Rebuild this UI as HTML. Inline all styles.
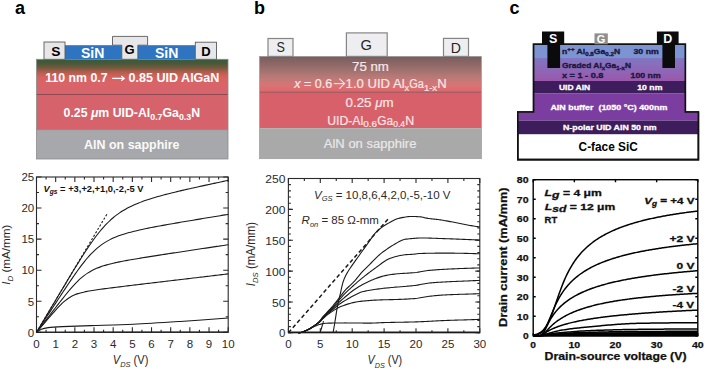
<!DOCTYPE html>
<html><head><meta charset="utf-8"><style>
html,body{margin:0;padding:0;background:#fff;}
body{width:706px;height:370px;overflow:hidden;}
svg{display:block;font-family:"Liberation Sans", sans-serif;}
</style></head><body>
<svg width="706" height="370" viewBox="0 0 706 370">
<rect width="706" height="370" fill="#fff"/>
<text x="15.00" y="13.60" font-size="18.00" fill="#000" font-weight="bold" font-style="normal" text-anchor="start" >a</text>
<text x="254.00" y="13.60" font-size="18.00" fill="#000" font-weight="bold" font-style="normal" text-anchor="start" >b</text>
<text x="509.40" y="13.60" font-size="18.00" fill="#000" font-weight="bold" font-style="normal" text-anchor="start" >c</text>
<defs>
<linearGradient id="ga" x1="0" y1="0" x2="0" y2="1">
<stop offset="0" stop-color="#3b5a36"/><stop offset="0.1" stop-color="#45593a"/>
<stop offset="0.2" stop-color="#64593c"/><stop offset="0.3" stop-color="#925b45"/>
<stop offset="0.4" stop-color="#c05e52"/><stop offset="0.5" stop-color="#d6615c"/>
<stop offset="0.65" stop-color="#d96468"/><stop offset="1" stop-color="#d6646c"/>
</linearGradient>
<linearGradient id="gb" x1="0" y1="0" x2="0" y2="1">
<stop offset="0" stop-color="#7a5c5c"/><stop offset="0.35" stop-color="#9a706e"/>
<stop offset="0.6" stop-color="#bc7a78"/><stop offset="0.8" stop-color="#d87474"/>
<stop offset="0.92" stop-color="#dc6c6e"/><stop offset="1" stop-color="#d9666c"/>
</linearGradient>
<linearGradient id="gc" x1="0" y1="0" x2="0" y2="1">
<stop offset="0" stop-color="#8177c2"/><stop offset="1" stop-color="#9a58ac"/>
</linearGradient>
</defs>
<rect x="36.5" y="59.3" width="191.5" height="35.2" fill="url(#ga)"/>
<rect x="36.5" y="94.5" width="191.5" height="35" fill="#d6636b"/>
<rect x="36.5" y="129.5" width="191.5" height="29.5" fill="#a7a8ab"/>
<line x1="36.5" y1="94.5" x2="228" y2="94.5" stroke="#8e4a50" stroke-width="1"/>
<line x1="36.5" y1="129.6" x2="228" y2="129.6" stroke="#9a7074" stroke-width="0.8"/>
<rect x="36.5" y="59.3" width="191.5" height="99.7" fill="none" stroke="#8a8a8a" stroke-width="0.8"/>
<rect x="64.9" y="45.2" width="57" height="14.1" fill="#2e74c1"/>
<rect x="137.8" y="45.2" width="57.5" height="14.1" fill="#2e74c1"/>
<rect x="44" y="42" width="21" height="17.3" fill="#e7e7e9" stroke="#5a5a5a" stroke-width="0.9"/>
<rect x="195.3" y="42.2" width="21.2" height="17.1" fill="#e7e7e9" stroke="#5a5a5a" stroke-width="0.9"/>
<path d="M112.5,45.2 L112.5,36.4 L147.6,36.4 L147.6,45.2 L137.8,45.2 L137.8,59.3 L121.8,59.3 L121.8,45.2 Z" fill="#e7e7e9" stroke="#5a5a5a" stroke-width="0.9"/>
<text x="55.80" y="55.60" font-size="13.50" fill="#000" font-weight="bold" font-style="normal" text-anchor="middle" textLength="9.2" lengthAdjust="spacingAndGlyphs" >S</text>
<text x="129.60" y="54.30" font-size="13.00" fill="#000" font-weight="bold" font-style="normal" text-anchor="middle" >G</text>
<text x="206.00" y="55.80" font-size="13.00" fill="#000" font-weight="bold" font-style="normal" text-anchor="middle" >D</text>
<text x="92.60" y="58.00" font-size="14.00" fill="#fff" font-weight="bold" font-style="normal" text-anchor="middle" >SiN</text>
<text x="166.60" y="58.00" font-size="14.00" fill="#fff" font-weight="bold" font-style="normal" text-anchor="middle" >SiN</text>
<text x="45.30" y="81.60" font-size="12.20" fill="#fff" font-weight="bold" font-style="normal" text-anchor="start" textLength="62.2" lengthAdjust="spacingAndGlyphs" >110 nm 0.7</text>
<path d="M112.2,78.4 H123.6" stroke="#fff" stroke-width="1.3"/><path d="M121.2,76.1 L124.2,78.4 L121.2,80.7" stroke="#fff" stroke-width="1.2" fill="none"/>
<text x="128.60" y="81.60" font-size="12.20" fill="#fff" font-weight="bold" font-style="normal" text-anchor="start" textLength="90.8" lengthAdjust="spacingAndGlyphs" >0.85 UID AlGaN</text>
<text x="63.6" y="117" font-size="12.5" fill="#fff" font-weight="bold" textLength="136.5" lengthAdjust="spacingAndGlyphs">0.25 <tspan font-style="italic">&#956;</tspan>m UID-Al<tspan font-size="9" dy="3">0.7</tspan><tspan dy="-3">Ga</tspan><tspan font-size="9" dy="3">0.3</tspan><tspan dy="-3">N</tspan></text>
<text x="131.80" y="149.20" font-size="12.20" fill="#fafafa" font-weight="bold" font-style="normal" text-anchor="middle" textLength="95.5" lengthAdjust="spacingAndGlyphs" >AlN on sapphire</text>
<rect x="259.5" y="56.4" width="221.9" height="35.9" fill="url(#gb)"/>
<rect x="259.5" y="92.3" width="221.9" height="35.9" fill="#d8606a"/>
<rect x="259.5" y="128.2" width="221.9" height="30.5" fill="#a9a9a9"/>
<line x1="259.5" y1="92.3" x2="481.4" y2="92.3" stroke="#8c4a4e" stroke-width="0.8"/>
<rect x="259.5" y="56.4" width="221.9" height="102.3" fill="none" stroke="#9a9a9a" stroke-width="0.7"/>
<rect x="268" y="38.5" width="25" height="17.9" fill="#eeeef0" stroke="#858585" stroke-width="1.2"/>
<rect x="346.4" y="32.9" width="40.8" height="23.5" fill="#eeeef0" stroke="#858585" stroke-width="1.2"/>
<rect x="443.5" y="38.4" width="25" height="18" fill="#eeeef0" stroke="#858585" stroke-width="1.2"/>
<text x="280.80" y="52.40" font-size="15.00" fill="#262626" font-weight="normal" font-style="normal" text-anchor="middle" textLength="8.4" lengthAdjust="spacingAndGlyphs" >S</text>
<text x="366.30" y="50.20" font-size="15.50" fill="#262626" font-weight="normal" font-style="normal" text-anchor="middle" textLength="11.4" lengthAdjust="spacingAndGlyphs" >G</text>
<text x="455.90" y="53.40" font-size="15.00" fill="#262626" font-weight="normal" font-style="normal" text-anchor="middle" textLength="10.2" lengthAdjust="spacingAndGlyphs" >D</text>
<text x="370.50" y="70.60" font-size="12.00" fill="#f8e6e6" font-weight="normal" font-style="normal" text-anchor="middle" textLength="36.8" lengthAdjust="spacingAndGlyphs" stroke="#f8e6e6" stroke-width="0.2">75 nm</text>
<text x="294.3" y="87.7" font-size="12" fill="#f8e6e6" stroke="#f8e6e6" stroke-width="0.2" textLength="38" lengthAdjust="spacingAndGlyphs"><tspan font-style="italic">x</tspan> = 0.6</text>
<path d="M333.8,83.6 H344.2" stroke="#f8e6e6" stroke-width="1.1"/><path d="M339.4,78.7 L344.6,83.6 L339.4,88.7" stroke="#f8e6e6" stroke-width="1.1" fill="none"/>
<text x="345.60" y="87.70" font-size="12.00" fill="#f8e6e6" font-weight="normal" font-style="normal" text-anchor="start" textLength="59.0" lengthAdjust="spacingAndGlyphs" stroke="#f8e6e6" stroke-width="0.2">1.0 UID Al</text>
<text x="404.60" y="91.20" font-size="8.50" fill="#f8e6e6" font-weight="normal" font-style="normal" text-anchor="start" textLength="4.6" lengthAdjust="spacingAndGlyphs" stroke="#f8e6e6" stroke-width="0.2">x</text>
<text x="409.20" y="87.70" font-size="12.00" fill="#f8e6e6" font-weight="normal" font-style="normal" text-anchor="start" textLength="14.6" lengthAdjust="spacingAndGlyphs" stroke="#f8e6e6" stroke-width="0.2">Ga</text>
<text x="423.90" y="91.20" font-size="8.50" fill="#f8e6e6" font-weight="normal" font-style="normal" text-anchor="start" textLength="13.2" lengthAdjust="spacingAndGlyphs" stroke="#f8e6e6" stroke-width="0.2">1-x</text>
<text x="437.30" y="87.70" font-size="12.00" fill="#f8e6e6" font-weight="normal" font-style="normal" text-anchor="start" textLength="9.4" lengthAdjust="spacingAndGlyphs" stroke="#f8e6e6" stroke-width="0.2">N</text>
<text x="345.6" y="106.9" font-size="12" fill="#f8e6e6" stroke="#f8e6e6" stroke-width="0.2" textLength="48" lengthAdjust="spacingAndGlyphs">0.25 <tspan font-style="italic">&#956;</tspan>m</text>
<text x="327.20" y="124.70" font-size="12.00" fill="#f8e6e6" font-weight="normal" font-style="normal" text-anchor="start" textLength="36.0" lengthAdjust="spacingAndGlyphs" stroke="#f8e6e6" stroke-width="0.2">UID-Al</text>
<text x="363.30" y="127.40" font-size="8.50" fill="#f8e6e6" font-weight="normal" font-style="normal" text-anchor="start" textLength="13.8" lengthAdjust="spacingAndGlyphs" stroke="#f8e6e6" stroke-width="0.2">0.6</text>
<text x="377.20" y="124.70" font-size="12.00" fill="#f8e6e6" font-weight="normal" font-style="normal" text-anchor="start" textLength="15.8" lengthAdjust="spacingAndGlyphs" stroke="#f8e6e6" stroke-width="0.2">Ga</text>
<text x="393.20" y="127.40" font-size="8.50" fill="#f8e6e6" font-weight="normal" font-style="normal" text-anchor="start" textLength="11.8" lengthAdjust="spacingAndGlyphs" stroke="#f8e6e6" stroke-width="0.2">0.4</text>
<text x="405.20" y="124.70" font-size="12.00" fill="#f8e6e6" font-weight="normal" font-style="normal" text-anchor="start" textLength="9.0" lengthAdjust="spacingAndGlyphs" stroke="#f8e6e6" stroke-width="0.2">N</text>
<text x="323.80" y="148.00" font-size="12.00" fill="#e8e8e8" font-weight="normal" font-style="normal" text-anchor="start" textLength="92.6" lengthAdjust="spacingAndGlyphs" stroke="#e8e8e8" stroke-width="0.2">AlN on sapphire</text>
<path d="M533.6,44.3 L685.3,44.3 L685.3,112 L698.4,112 L698.4,159.6 L517.8,159.6 L517.8,112 L533.6,112 Z" fill="#fff" stroke="#111" stroke-width="1.6"/>
<rect x="533.6" y="44.3" width="151.7" height="13.7" fill="#7c95d2"/>
<rect x="533.6" y="58" width="151.7" height="23" fill="url(#gc)"/>
<rect x="533.6" y="81" width="151.7" height="12.2" fill="#3e1d5c"/>
<rect x="533.6" y="93.2" width="151.7" height="18.8" fill="#7b3d9f"/>
<rect x="517.8" y="112" width="180.6" height="8.6" fill="#7b3d9f"/>
<rect x="517.8" y="120.6" width="180.6" height="13.6" fill="#3e1d5c"/>
<path d="M533.6,44.3 L685.3,44.3 L685.3,112 L698.4,112 L698.4,159.6 L517.8,159.6 L517.8,112 L533.6,112 Z" fill="none" stroke="#111" stroke-width="1.6"/>
<path d="M542,31.5 L564.2,31.5 L564.2,44.3 L560.1,44.3 L560.1,68 L547.4,68 L547.4,44.3 L542,44.3 Z" fill="#0b0b0b"/>
<path d="M656.9,31.5 L678.6,31.5 L678.6,44.3 L675,44.3 L675,68 L662.4,68 L662.4,44.3 L656.9,44.3 Z" fill="#0b0b0b"/>
<rect x="594.5" y="33.4" width="13.3" height="10.9" fill="#8e8e8e"/>
<text x="553.20" y="43.20" font-size="12.50" fill="#fff" font-weight="bold" font-style="normal" text-anchor="middle" >S</text>
<text x="667.80" y="43.20" font-size="12.50" fill="#fff" font-weight="bold" font-style="normal" text-anchor="middle" >D</text>
<text x="601.10" y="43.00" font-size="11.00" fill="#fff" font-weight="bold" font-style="normal" text-anchor="middle" >G</text>
<text x="562" y="54.1" font-size="7.7" fill="#1c1740" font-weight="bold" stroke="#1c1740" stroke-width="0.35" textLength="58.2" lengthAdjust="spacingAndGlyphs">n<tspan font-size="5.5" dy="-2.8">++</tspan><tspan dy="2.8"> Al</tspan><tspan font-size="5.5" dy="1.8">0.8</tspan><tspan dy="-1.8">Ga</tspan><tspan font-size="5.5" dy="1.8">0.2</tspan><tspan dy="-1.8">N</tspan></text>
<text x="633.50" y="54.10" font-size="7.70" fill="#1c1740" font-weight="bold" font-style="normal" text-anchor="start" textLength="25.3" lengthAdjust="spacingAndGlyphs" stroke="#1c1740" stroke-width="0.35">30 nm</text>
<text x="562" y="67.7" font-size="7.7" fill="#1c1740" font-weight="bold" stroke="#1c1740" stroke-width="0.35" textLength="69" lengthAdjust="spacingAndGlyphs">Graded Al<tspan font-size="5.5" dy="1.8">x</tspan><tspan dy="-1.8">Ga</tspan><tspan font-size="5.5" dy="1.8">1-x</tspan><tspan dy="-1.8">N</tspan></text>
<text x="562.00" y="77.60" font-size="7.70" fill="#1c1740" font-weight="bold" font-style="normal" text-anchor="start" textLength="41.4" lengthAdjust="spacingAndGlyphs" stroke="#1c1740" stroke-width="0.35">x = 1 - 0.8</text>
<text x="630.60" y="77.60" font-size="7.70" fill="#1c1740" font-weight="bold" font-style="normal" text-anchor="start" textLength="30.1" lengthAdjust="spacingAndGlyphs" stroke="#1c1740" stroke-width="0.35">100 nm</text>
<text x="558.90" y="90.00" font-size="7.70" fill="#fff" font-weight="bold" font-style="normal" text-anchor="start" textLength="31.3" lengthAdjust="spacingAndGlyphs" stroke="#fff" stroke-width="0.3">UID AlN</text>
<text x="637.20" y="90.00" font-size="7.70" fill="#fff" font-weight="bold" font-style="normal" text-anchor="start" textLength="25.2" lengthAdjust="spacingAndGlyphs" stroke="#fff" stroke-width="0.3">10 nm</text>
<text x="550.40" y="110.00" font-size="7.70" fill="#fff" font-weight="bold" font-style="normal" text-anchor="start" textLength="117.0" lengthAdjust="spacingAndGlyphs" stroke="#fff" stroke-width="0.3">AlN buffer&#160; (1050 &#176;C) 400nm</text>
<text x="563.00" y="130.20" font-size="7.70" fill="#fff" font-weight="bold" font-style="normal" text-anchor="start" textLength="93.7" lengthAdjust="spacingAndGlyphs" stroke="#fff" stroke-width="0.3">N-polar UID AlN 50 nm</text>
<text x="578.60" y="151.00" font-size="12.00" fill="#000" font-weight="bold" font-style="normal" text-anchor="start" textLength="59.2" lengthAdjust="spacingAndGlyphs" >C-face SiC</text>
<!-- plots -->
<g stroke="#2a2a2a" fill="none" stroke-width="1.1">
<rect x="36.50" y="177.00" width="191.70" height="155.30"/>
<path d="M36.50,332.30v-5.00M36.50,177.00v5.00M55.67,332.30v-5.00M55.67,177.00v5.00M74.84,332.30v-5.00M74.84,177.00v5.00M94.01,332.30v-5.00M94.01,177.00v5.00M113.18,332.30v-5.00M113.18,177.00v5.00M132.35,332.30v-5.00M132.35,177.00v5.00M151.52,332.30v-5.00M151.52,177.00v5.00M170.69,332.30v-5.00M170.69,177.00v5.00M189.86,332.30v-5.00M189.86,177.00v5.00M209.03,332.30v-5.00M209.03,177.00v5.00M228.20,332.30v-5.00M228.20,177.00v5.00M36.50,332.30h5.00M228.20,332.30h-5.00M36.50,301.24h5.00M228.20,301.24h-5.00M36.50,270.18h5.00M228.20,270.18h-5.00M36.50,239.12h5.00M228.20,239.12h-5.00M36.50,208.06h5.00M228.20,208.06h-5.00M36.50,177.00h5.00M228.20,177.00h-5.00"/>
<path d="M46.09,332.30v-2.50M46.09,177.00v2.50M65.25,332.30v-2.50M65.25,177.00v2.50M84.42,332.30v-2.50M84.42,177.00v2.50M103.59,332.30v-2.50M103.59,177.00v2.50M122.76,332.30v-2.50M122.76,177.00v2.50M141.93,332.30v-2.50M141.93,177.00v2.50M161.10,332.30v-2.50M161.10,177.00v2.50M180.27,332.30v-2.50M180.27,177.00v2.50M199.44,332.30v-2.50M199.44,177.00v2.50M218.61,332.30v-2.50M218.61,177.00v2.50M36.50,316.77h2.50M228.20,316.77h-2.50M36.50,285.71h2.50M228.20,285.71h-2.50M36.50,254.65h2.50M228.20,254.65h-2.50M36.50,223.59h2.50M228.20,223.59h-2.50M36.50,192.53h2.50M228.20,192.53h-2.50"/>
</g>
<g stroke="#1a1a1a" fill="none" stroke-width="1.1">
<path d="M36.50,332.30 C37.03,331.41 38.63,328.73 39.70,326.95 C40.76,325.16 41.83,323.38 42.89,321.59 C43.95,319.81 45.02,318.03 46.09,316.24 C47.15,314.46 48.22,312.67 49.28,310.89 C50.34,309.11 51.41,307.32 52.48,305.54 C53.54,303.75 54.61,301.97 55.67,300.19 C56.73,298.40 57.80,296.62 58.86,294.84 C59.93,293.06 61.00,291.27 62.06,289.49 C63.12,287.72 64.19,285.94 65.25,284.16 C66.32,282.39 67.39,280.61 68.45,278.84 C69.52,277.08 70.58,275.31 71.64,273.55 C72.71,271.80 73.78,270.05 74.84,268.31 C75.91,266.57 76.97,264.83 78.03,263.12 C79.10,261.40 80.16,259.69 81.23,258.01 C82.29,256.32 83.36,254.65 84.42,253.01 C85.49,251.37 86.56,249.74 87.62,248.15 C88.69,246.56 89.75,244.99 90.81,243.46 C91.88,241.94 92.94,240.44 94.01,238.99 C95.07,237.53 96.14,236.12 97.20,234.75 C98.27,233.38 99.34,232.05 100.40,230.77 C101.47,229.49 102.53,228.26 103.59,227.08 C104.66,225.90 105.72,224.76 106.79,223.68 C107.85,222.59 108.92,221.56 109.98,220.57 C111.05,219.58 112.11,218.64 113.18,217.74 C114.24,216.84 115.31,215.99 116.38,215.18 C117.44,214.37 118.50,213.61 119.57,212.87 C120.63,212.14 121.70,211.45 122.77,210.79 C123.83,210.12 124.89,209.50 125.96,208.90 C127.02,208.30 128.09,207.73 129.15,207.19 C130.22,206.64 131.28,206.13 132.35,205.63 C133.41,205.13 134.48,204.66 135.55,204.20 C136.61,203.74 137.68,203.31 138.74,202.89 C139.81,202.46 140.87,202.06 141.94,201.67 C143.00,201.27 144.06,200.89 145.13,200.53 C146.19,200.16 147.26,199.80 148.32,199.46 C149.39,199.11 150.45,198.77 151.52,198.45 C152.58,198.12 153.65,197.80 154.72,197.48 C155.78,197.17 156.84,196.86 157.91,196.56 C158.97,196.26 160.04,195.97 161.10,195.68 C162.17,195.39 163.24,195.11 164.30,194.83 C165.37,194.55 166.43,194.27 167.50,194.00 C168.56,193.73 169.62,193.46 170.69,193.19 C171.75,192.93 172.82,192.67 173.88,192.41 C174.95,192.15 176.01,191.89 177.08,191.64 C178.14,191.38 179.21,191.13 180.27,190.88 C181.34,190.63 182.41,190.38 183.47,190.13 C184.53,189.89 185.60,189.64 186.66,189.40 C187.73,189.16 188.79,188.92 189.86,188.68 C190.92,188.44 191.99,188.20 193.05,187.96 C194.12,187.72 195.19,187.49 196.25,187.25 C197.31,187.01 198.38,186.78 199.44,186.55 C200.51,186.31 201.57,186.08 202.64,185.85 C203.70,185.62 204.77,185.39 205.84,185.15 C206.90,184.92 207.97,184.69 209.03,184.47 C210.09,184.24 211.16,184.01 212.22,183.78 C213.29,183.55 214.35,183.32 215.42,183.10 C216.48,182.87 217.55,182.64 218.61,182.42 C219.68,182.19 220.74,181.96 221.81,181.74 C222.87,181.51 223.94,181.29 225.00,181.06 C226.07,180.84 227.67,180.50 228.20,180.39"/>
<path d="M36.50,332.30 C37.03,331.49 38.63,329.06 39.70,327.43 C40.76,325.81 41.83,324.19 42.89,322.57 C43.95,320.95 45.02,319.32 46.09,317.70 C47.15,316.08 48.22,314.46 49.28,312.84 C50.34,311.21 51.41,309.59 52.48,307.97 C53.54,306.35 54.61,304.73 55.67,303.11 C56.73,301.49 57.80,299.87 58.86,298.25 C59.93,296.64 61.00,295.02 62.06,293.41 C63.12,291.80 64.19,290.19 65.25,288.59 C66.32,286.99 67.39,285.40 68.45,283.81 C69.52,282.23 70.58,280.65 71.64,279.10 C72.71,277.54 73.78,275.99 74.84,274.48 C75.91,272.96 76.97,271.45 78.03,269.99 C79.10,268.52 80.16,267.08 81.23,265.68 C82.29,264.27 83.36,262.90 84.42,261.58 C85.49,260.26 86.56,258.98 87.62,257.76 C88.69,256.53 89.75,255.35 90.81,254.23 C91.88,253.11 92.94,252.04 94.01,251.03 C95.07,250.01 96.14,249.05 97.20,248.15 C98.27,247.25 99.34,246.40 100.40,245.60 C101.47,244.80 102.53,244.05 103.59,243.35 C104.66,242.64 105.72,241.99 106.79,241.37 C107.85,240.75 108.92,240.18 109.98,239.63 C111.05,239.09 112.11,238.58 113.18,238.10 C114.24,237.62 115.31,237.18 116.38,236.75 C117.44,236.32 118.50,235.92 119.57,235.54 C120.63,235.16 121.70,234.80 122.77,234.45 C123.83,234.11 124.89,233.78 125.96,233.47 C127.02,233.15 128.09,232.85 129.15,232.56 C130.22,232.27 131.28,231.99 132.35,231.72 C133.41,231.45 134.48,231.18 135.55,230.93 C136.61,230.67 137.68,230.43 138.74,230.19 C139.81,229.95 140.87,229.71 141.94,229.48 C143.00,229.25 144.06,229.02 145.13,228.80 C146.19,228.58 147.26,228.36 148.32,228.15 C149.39,227.94 150.45,227.73 151.52,227.52 C152.58,227.31 153.65,227.11 154.72,226.90 C155.78,226.70 156.84,226.50 157.91,226.30 C158.97,226.10 160.04,225.91 161.10,225.71 C162.17,225.52 163.24,225.32 164.30,225.13 C165.37,224.94 166.43,224.75 167.50,224.56 C168.56,224.37 169.62,224.18 170.69,224.00 C171.75,223.81 172.82,223.62 173.88,223.44 C174.95,223.25 176.01,223.07 177.08,222.88 C178.14,222.70 179.21,222.52 180.27,222.33 C181.34,222.15 182.41,221.97 183.47,221.79 C184.53,221.61 185.60,221.43 186.66,221.25 C187.73,221.07 188.79,220.89 189.86,220.71 C190.92,220.53 191.99,220.35 193.05,220.17 C194.12,219.99 195.19,219.81 196.25,219.63 C197.31,219.46 198.38,219.28 199.44,219.10 C200.51,218.92 201.57,218.75 202.64,218.57 C203.70,218.39 204.77,218.22 205.84,218.04 C206.90,217.86 207.97,217.69 209.03,217.51 C210.09,217.34 211.16,217.16 212.22,216.98 C213.29,216.81 214.35,216.63 215.42,216.46 C216.48,216.28 217.55,216.11 218.61,215.93 C219.68,215.76 220.74,215.58 221.81,215.41 C222.87,215.23 223.94,215.06 225.00,214.88 C226.07,214.71 227.67,214.44 228.20,214.36"/>
<path d="M36.50,332.30 C37.03,331.61 38.63,329.54 39.70,328.16 C40.76,326.78 41.83,325.40 42.89,324.02 C43.95,322.64 45.02,321.26 46.09,319.88 C47.15,318.50 48.22,317.12 49.28,315.74 C50.34,314.36 51.41,312.98 52.48,311.60 C53.54,310.22 54.61,308.84 55.67,307.47 C56.73,306.10 57.80,304.72 58.86,303.36 C59.93,302.00 61.00,300.63 62.06,299.29 C63.12,297.94 64.19,296.60 65.25,295.28 C66.32,293.96 67.39,292.66 68.45,291.38 C69.52,290.11 70.58,288.85 71.64,287.64 C72.71,286.43 73.78,285.25 74.84,284.12 C75.91,283.00 76.97,281.91 78.03,280.88 C79.10,279.85 80.16,278.87 81.23,277.95 C82.29,277.03 83.36,276.16 84.42,275.36 C85.49,274.55 86.56,273.80 87.62,273.10 C88.69,272.41 89.75,271.77 90.81,271.17 C91.88,270.57 92.94,270.02 94.01,269.51 C95.07,269.00 96.14,268.53 97.20,268.09 C98.27,267.65 99.34,267.25 100.40,266.87 C101.47,266.49 102.53,266.14 103.59,265.80 C104.66,265.47 105.72,265.16 106.79,264.86 C107.85,264.56 108.92,264.28 109.98,264.01 C111.05,263.74 112.11,263.49 113.18,263.24 C114.24,263.00 115.31,262.76 116.38,262.53 C117.44,262.30 118.50,262.08 119.57,261.87 C120.63,261.65 121.70,261.44 122.77,261.24 C123.83,261.03 124.89,260.84 125.96,260.64 C127.02,260.44 128.09,260.25 129.15,260.06 C130.22,259.87 131.28,259.69 132.35,259.50 C133.41,259.32 134.48,259.14 135.55,258.96 C136.61,258.78 137.68,258.60 138.74,258.42 C139.81,258.25 140.87,258.07 141.94,257.90 C143.00,257.72 144.06,257.55 145.13,257.38 C146.19,257.21 147.26,257.04 148.32,256.87 C149.39,256.70 150.45,256.53 151.52,256.36 C152.58,256.20 153.65,256.03 154.72,255.86 C155.78,255.70 156.84,255.53 157.91,255.36 C158.97,255.20 160.04,255.03 161.10,254.87 C162.17,254.71 163.24,254.54 164.30,254.38 C165.37,254.21 166.43,254.05 167.50,253.89 C168.56,253.72 169.62,253.56 170.69,253.40 C171.75,253.24 172.82,253.07 173.88,252.91 C174.95,252.75 176.01,252.59 177.08,252.43 C178.14,252.26 179.21,252.10 180.27,251.94 C181.34,251.78 182.41,251.62 183.47,251.46 C184.53,251.30 185.60,251.14 186.66,250.97 C187.73,250.81 188.79,250.65 189.86,250.49 C190.92,250.33 191.99,250.17 193.05,250.01 C194.12,249.85 195.19,249.69 196.25,249.53 C197.31,249.37 198.38,249.21 199.44,249.05 C200.51,248.89 201.57,248.73 202.64,248.57 C203.70,248.41 204.77,248.25 205.84,248.09 C206.90,247.93 207.97,247.77 209.03,247.61 C210.09,247.45 211.16,247.29 212.22,247.13 C213.29,246.97 214.35,246.81 215.42,246.65 C216.48,246.49 217.55,246.33 218.61,246.17 C219.68,246.01 220.74,245.85 221.81,245.70 C222.87,245.54 223.94,245.38 225.00,245.22 C226.07,245.06 227.67,244.82 228.20,244.74"/>
<path d="M36.50,332.30 C37.03,331.68 38.63,329.82 39.70,328.57 C40.76,327.33 41.83,326.09 42.89,324.85 C43.95,323.60 45.02,322.36 46.09,321.12 C47.15,319.88 48.22,318.64 49.28,317.40 C50.34,316.17 51.41,314.93 52.48,313.71 C53.54,312.49 54.61,311.27 55.67,310.09 C56.73,308.91 57.80,307.73 58.86,306.62 C59.93,305.50 61.00,304.41 62.06,303.41 C63.12,302.40 64.19,301.44 65.25,300.58 C66.32,299.71 67.39,298.92 68.45,298.20 C69.52,297.49 70.58,296.86 71.64,296.30 C72.71,295.73 73.78,295.25 74.84,294.81 C75.91,294.36 76.97,293.99 78.03,293.64 C79.10,293.29 80.16,292.99 81.23,292.71 C82.29,292.43 83.36,292.18 84.42,291.95 C85.49,291.72 86.56,291.51 87.62,291.30 C88.69,291.10 89.75,290.92 90.81,290.74 C91.88,290.56 92.94,290.39 94.01,290.22 C95.07,290.06 96.14,289.90 97.20,289.74 C98.27,289.59 99.34,289.44 100.40,289.29 C101.47,289.15 102.53,289.00 103.59,288.86 C104.66,288.72 105.72,288.58 106.79,288.44 C107.85,288.30 108.92,288.17 109.98,288.03 C111.05,287.90 112.11,287.76 113.18,287.63 C114.24,287.49 115.31,287.36 116.38,287.23 C117.44,287.10 118.50,286.97 119.57,286.84 C120.63,286.71 121.70,286.58 122.77,286.45 C123.83,286.32 124.89,286.19 125.96,286.06 C127.02,285.93 128.09,285.80 129.15,285.67 C130.22,285.54 131.28,285.42 132.35,285.29 C133.41,285.16 134.48,285.03 135.55,284.90 C136.61,284.78 137.68,284.65 138.74,284.52 C139.81,284.39 140.87,284.27 141.94,284.14 C143.00,284.01 144.06,283.89 145.13,283.76 C146.19,283.63 147.26,283.50 148.32,283.38 C149.39,283.25 150.45,283.12 151.52,283.00 C152.58,282.87 153.65,282.74 154.72,282.62 C155.78,282.49 156.84,282.36 157.91,282.24 C158.97,282.11 160.04,281.98 161.10,281.86 C162.17,281.73 163.24,281.60 164.30,281.48 C165.37,281.35 166.43,281.23 167.50,281.10 C168.56,280.97 169.62,280.85 170.69,280.72 C171.75,280.59 172.82,280.47 173.88,280.34 C174.95,280.22 176.01,280.09 177.08,279.96 C178.14,279.84 179.21,279.71 180.27,279.58 C181.34,279.46 182.41,279.33 183.47,279.21 C184.53,279.08 185.60,278.95 186.66,278.83 C187.73,278.70 188.79,278.57 189.86,278.45 C190.92,278.32 191.99,278.20 193.05,278.07 C194.12,277.94 195.19,277.82 196.25,277.69 C197.31,277.57 198.38,277.44 199.44,277.31 C200.51,277.19 201.57,277.06 202.64,276.94 C203.70,276.81 204.77,276.68 205.84,276.56 C206.90,276.43 207.97,276.31 209.03,276.18 C210.09,276.05 211.16,275.93 212.22,275.80 C213.29,275.67 214.35,275.55 215.42,275.42 C216.48,275.30 217.55,275.17 218.61,275.04 C219.68,274.92 220.74,274.79 221.81,274.67 C222.87,274.54 223.94,274.41 225.00,274.29 C226.07,274.16 227.67,273.97 228.20,273.91"/>
<path d="M36.50,332.30 C37.30,331.78 39.34,329.98 41.29,329.19 C43.24,328.41 44.68,328.01 48.19,327.58 C51.71,327.14 55.29,326.92 62.38,326.58 C69.47,326.25 78.93,325.98 90.75,325.59 C102.57,325.20 118.39,324.92 133.31,324.22 C148.23,323.53 164.46,322.46 180.27,321.43 C196.09,320.39 220.21,318.58 228.20,318.01"/>
<path d="M36.50,332.30 C68.45,332.25 196.25,332.04 228.20,331.99"/>
</g>
<line x1="36.50" y1="332.30" x2="106.85" y2="214.27" stroke="#1a1a1a" stroke-width="1.1" stroke-dasharray="2.2,1.776"/>
<text x="36.50" y="348.30" font-size="11.50" fill="#2a2a2a" font-weight="normal" font-style="normal" text-anchor="middle" >0</text>
<text x="55.67" y="348.30" font-size="11.50" fill="#2a2a2a" font-weight="normal" font-style="normal" text-anchor="middle" >1</text>
<text x="74.84" y="348.30" font-size="11.50" fill="#2a2a2a" font-weight="normal" font-style="normal" text-anchor="middle" >2</text>
<text x="94.01" y="348.30" font-size="11.50" fill="#2a2a2a" font-weight="normal" font-style="normal" text-anchor="middle" >3</text>
<text x="113.18" y="348.30" font-size="11.50" fill="#2a2a2a" font-weight="normal" font-style="normal" text-anchor="middle" >4</text>
<text x="132.35" y="348.30" font-size="11.50" fill="#2a2a2a" font-weight="normal" font-style="normal" text-anchor="middle" >5</text>
<text x="151.52" y="348.30" font-size="11.50" fill="#2a2a2a" font-weight="normal" font-style="normal" text-anchor="middle" >6</text>
<text x="170.69" y="348.30" font-size="11.50" fill="#2a2a2a" font-weight="normal" font-style="normal" text-anchor="middle" >7</text>
<text x="189.86" y="348.30" font-size="11.50" fill="#2a2a2a" font-weight="normal" font-style="normal" text-anchor="middle" >8</text>
<text x="209.03" y="348.30" font-size="11.50" fill="#2a2a2a" font-weight="normal" font-style="normal" text-anchor="middle" >9</text>
<text x="228.20" y="348.30" font-size="11.50" fill="#2a2a2a" font-weight="normal" font-style="normal" text-anchor="middle" >10</text>
<text x="34.20" y="336.60" font-size="11.50" fill="#2a2a2a" font-weight="normal" font-style="normal" text-anchor="end" >0</text>
<text x="34.20" y="305.54" font-size="11.50" fill="#2a2a2a" font-weight="normal" font-style="normal" text-anchor="end" >5</text>
<text x="34.20" y="274.48" font-size="11.50" fill="#2a2a2a" font-weight="normal" font-style="normal" text-anchor="end" >10</text>
<text x="34.20" y="243.42" font-size="11.50" fill="#2a2a2a" font-weight="normal" font-style="normal" text-anchor="end" >15</text>
<text x="34.20" y="212.36" font-size="11.50" fill="#2a2a2a" font-weight="normal" font-style="normal" text-anchor="end" >20</text>
<text x="34.20" y="181.30" font-size="11.50" fill="#2a2a2a" font-weight="normal" font-style="normal" text-anchor="end" >25</text>
<text x="112.8" y="363.6" font-size="12" fill="#2a2a2a" textLength="35.6" lengthAdjust="spacingAndGlyphs"><tspan font-style="italic">V</tspan><tspan font-size="8" font-style="italic" dy="3.5">DS</tspan><tspan dy="-3.5"> (V)</tspan></text>
<text transform="translate(10.0,254.8) rotate(-90)" font-size="11" fill="#2a2a2a" text-anchor="middle" textLength="60" lengthAdjust="spacingAndGlyphs"><tspan font-style="italic">I</tspan><tspan font-size="7.5" font-style="italic" dy="2.5">D</tspan><tspan dy="-2.5"> (mA/mm)</tspan></text>
<text x="43.6" y="192.4" font-size="9.2" fill="#111" font-weight="bold" textLength="100" lengthAdjust="spacingAndGlyphs"><tspan font-style="italic">V</tspan><tspan font-size="6.5" font-style="italic" dy="2">gs</tspan><tspan dy="-2"> = +3,+2,+1,0,-2,-5 V</tspan></text>
<g stroke="#2a2a2a" fill="none" stroke-width="1.1">
<rect x="288.40" y="178.50" width="191.40" height="154.30"/>
<path d="M288.40,332.80v-4.50M288.40,178.50v4.50M320.30,332.80v-4.50M320.30,178.50v4.50M352.20,332.80v-4.50M352.20,178.50v4.50M384.10,332.80v-4.50M384.10,178.50v4.50M416.00,332.80v-4.50M416.00,178.50v4.50M447.90,332.80v-4.50M447.90,178.50v4.50M479.80,332.80v-4.50M479.80,178.50v4.50M288.40,332.80h4.50M479.80,332.80h-4.50M288.40,301.94h4.50M479.80,301.94h-4.50M288.40,271.08h4.50M479.80,271.08h-4.50M288.40,240.22h4.50M479.80,240.22h-4.50M288.40,209.36h4.50M479.80,209.36h-4.50M288.40,178.50h4.50M479.80,178.50h-4.50"/>
<path d="M304.35,332.80v-2.50M304.35,178.50v2.50M336.25,332.80v-2.50M336.25,178.50v2.50M368.15,332.80v-2.50M368.15,178.50v2.50M400.05,332.80v-2.50M400.05,178.50v2.50M431.95,332.80v-2.50M431.95,178.50v2.50M463.85,332.80v-2.50M463.85,178.50v2.50M288.40,332.80h2.50M479.80,332.80h-2.50M288.40,326.63h2.50M479.80,326.63h-2.50M288.40,320.46h2.50M479.80,320.46h-2.50M288.40,314.28h2.50M479.80,314.28h-2.50M288.40,308.11h2.50M479.80,308.11h-2.50M288.40,301.94h2.50M479.80,301.94h-2.50M288.40,295.77h2.50M479.80,295.77h-2.50M288.40,289.60h2.50M479.80,289.60h-2.50M288.40,283.42h2.50M479.80,283.42h-2.50M288.40,277.25h2.50M479.80,277.25h-2.50M288.40,271.08h2.50M479.80,271.08h-2.50M288.40,264.91h2.50M479.80,264.91h-2.50M288.40,258.74h2.50M479.80,258.74h-2.50M288.40,252.56h2.50M479.80,252.56h-2.50M288.40,246.39h2.50M479.80,246.39h-2.50M288.40,240.22h2.50M479.80,240.22h-2.50M288.40,234.05h2.50M479.80,234.05h-2.50M288.40,227.88h2.50M479.80,227.88h-2.50M288.40,221.70h2.50M479.80,221.70h-2.50M288.40,215.53h2.50M479.80,215.53h-2.50M288.40,209.36h2.50M479.80,209.36h-2.50M288.40,203.19h2.50M479.80,203.19h-2.50M288.40,197.02h2.50M479.80,197.02h-2.50M288.40,190.84h2.50M479.80,190.84h-2.50M288.40,184.67h2.50M479.80,184.67h-2.50M288.40,178.50h2.50M479.80,178.50h-2.50"/>
</g>
<g stroke="#1a1a1a" fill="none" stroke-width="1.1">
<path d="M333.06,332.80 L334.29,325.78 L335.53,318.11 L336.76,310.07 L337.99,303.79 L339.23,298.30 L340.46,293.03 L341.69,287.49 L342.92,282.47 L344.16,278.93 L345.39,276.21 L346.62,273.86 L347.86,271.74 L349.09,269.81 L350.32,267.99 L351.56,266.17 L352.79,264.37 L354.02,262.61 L355.26,260.89 L356.49,259.18 L357.72,257.47 L358.96,255.74 L360.19,254.01 L361.42,252.27 L362.65,250.54 L363.89,248.81 L365.12,247.10 L366.35,245.41 L367.59,243.71 L368.82,241.96 L370.05,240.17 L371.29,238.38 L372.52,236.64 L373.75,234.98 L374.99,233.44 L376.22,232.06 L377.45,230.87 L378.69,229.79 L379.92,228.77 L381.15,227.82 L382.38,226.92 L383.62,226.08 L384.85,225.28 L386.08,224.53 L387.32,223.81 L388.55,223.11 L389.78,222.42 L391.02,221.74 L392.25,221.07 L393.48,220.43 L394.72,219.83 L395.95,219.29 L397.18,218.82 L398.41,218.43 L399.65,218.14 L400.88,217.88 L402.11,217.63 L403.35,217.40 L404.58,217.18 L405.81,216.98 L407.05,216.81 L408.28,216.67 L409.51,216.56 L410.75,216.49 L411.98,216.46 L413.21,216.46 L414.45,216.49 L415.68,216.54 L416.91,216.60 L418.14,216.68 L419.38,216.77 L420.61,216.89 L421.84,217.01 L423.08,217.23 L424.31,217.65 L425.54,217.93 L426.78,218.15 L428.01,218.35 L429.24,218.52 L430.48,218.68 L431.71,218.83 L432.94,218.97 L434.17,219.10 L435.41,219.24 L436.64,219.38 L437.87,219.53 L439.11,219.69 L440.34,219.87 L441.57,220.06 L442.81,220.26 L444.04,220.46 L445.27,220.68 L446.51,220.90 L447.74,221.12 L448.97,221.35 L450.21,221.59 L451.44,221.83 L452.67,222.07 L453.90,222.31 L455.14,222.56 L456.37,222.80 L457.60,223.05 L458.84,223.30 L460.07,223.55 L461.30,223.79 L462.54,224.04 L463.77,224.28 L465.00,224.52 L466.24,224.76 L467.47,224.99 L468.70,225.22 L469.94,225.44 L471.17,225.65 L472.40,225.86 L473.63,226.07 L474.87,226.26 L476.10,226.45 L477.33,226.62 L478.57,226.79 L479.80,226.95"/>
<path d="M297.97,332.80 L299.50,332.68 L301.03,332.45 L302.55,332.10 L304.08,331.55 L305.61,330.87 L307.14,330.11 L308.67,329.34 L310.19,328.48 L311.72,327.52 L313.25,326.46 L314.78,325.35 L316.31,324.19 L317.83,322.92 L319.36,321.47 L320.89,319.67 L322.42,317.42 L323.95,315.65 L325.47,314.04 L327.00,312.39 L328.53,310.71 L330.06,309.04 L331.59,307.34 L333.11,305.58 L334.64,303.72 L336.17,301.80 L337.70,299.84 L339.23,297.89 L340.75,295.93 L342.28,293.93 L343.81,291.97 L345.34,290.14 L346.87,288.49 L348.39,287.01 L349.92,285.61 L351.45,284.20 L352.98,282.71 L354.51,281.06 L356.03,279.29 L357.56,277.43 L359.09,275.56 L360.62,273.72 L362.15,271.98 L363.67,270.36 L365.20,268.81 L366.73,267.30 L368.26,265.81 L369.79,264.30 L371.31,262.75 L372.84,261.19 L374.37,259.64 L375.90,258.11 L377.43,256.63 L378.95,255.21 L380.48,253.89 L382.01,252.68 L383.54,251.56 L385.07,250.48 L386.59,249.39 L388.12,248.32 L389.65,247.27 L391.18,246.27 L392.70,245.35 L394.23,244.46 L395.76,243.53 L397.29,242.61 L398.82,241.73 L400.34,240.92 L401.87,240.22 L403.40,239.68 L404.93,239.33 L406.46,239.12 L407.98,238.93 L409.51,238.76 L411.04,238.60 L412.57,238.45 L414.10,238.33 L415.62,238.22 L417.15,238.13 L418.68,238.07 L420.21,238.02 L421.74,238.00 L423.26,238.00 L424.79,238.01 L426.32,238.04 L427.85,238.07 L429.38,238.11 L430.90,238.16 L432.43,238.21 L433.96,238.27 L435.49,238.32 L437.02,238.38 L438.54,238.44 L440.07,238.49 L441.60,238.54 L443.13,238.59 L444.66,238.64 L446.18,238.69 L447.71,238.75 L449.24,238.80 L450.77,238.86 L452.30,238.92 L453.82,238.98 L455.35,239.04 L456.88,239.10 L458.41,239.16 L459.94,239.22 L461.46,239.28 L462.99,239.34 L464.52,239.41 L466.05,239.47 L467.58,239.53 L469.10,239.60 L470.63,239.66 L472.16,239.72 L473.69,239.78 L475.22,239.84 L476.74,239.91 L478.27,239.97 L479.80,240.03"/>
<path d="M297.97,332.80 L299.50,332.68 L301.03,332.45 L302.55,332.10 L304.08,331.55 L305.61,330.87 L307.14,330.11 L308.67,329.34 L310.19,328.47 L311.72,327.50 L313.25,326.45 L314.78,325.36 L316.31,324.24 L317.83,323.03 L319.36,321.66 L320.89,319.96 L322.42,317.87 L323.95,316.16 L325.47,314.59 L327.00,313.03 L328.53,311.48 L330.06,309.97 L331.59,308.43 L333.11,306.82 L334.64,305.10 L336.17,303.29 L337.70,301.47 L339.23,299.71 L340.75,298.02 L342.28,296.36 L343.81,294.73 L345.34,293.16 L346.87,291.66 L348.39,290.20 L349.92,288.79 L351.45,287.40 L352.98,286.03 L354.51,284.66 L356.03,283.31 L357.56,281.96 L359.09,280.64 L360.62,279.35 L362.15,278.08 L363.67,276.85 L365.20,275.65 L366.73,274.47 L368.26,273.30 L369.79,272.15 L371.31,271.01 L372.84,269.89 L374.37,268.76 L375.90,267.63 L377.43,266.50 L378.95,265.35 L380.48,264.20 L382.01,263.06 L383.54,261.99 L385.07,261.00 L386.59,260.07 L388.12,259.25 L389.65,258.59 L391.18,257.99 L392.70,257.46 L394.23,256.97 L395.76,256.54 L397.29,256.17 L398.82,255.81 L400.34,255.48 L401.87,255.19 L403.40,254.94 L404.93,254.75 L406.46,254.61 L407.98,254.51 L409.51,254.43 L411.04,254.35 L412.57,254.26 L414.10,254.16 L415.62,254.01 L417.15,253.78 L418.68,253.57 L420.21,253.48 L421.74,253.43 L423.26,253.39 L424.79,253.35 L426.32,253.31 L427.85,253.28 L429.38,253.25 L430.90,253.23 L432.43,253.20 L433.96,253.18 L435.49,253.17 L437.02,253.15 L438.54,253.14 L440.07,253.13 L441.60,253.12 L443.13,253.12 L444.66,253.12 L446.18,253.12 L447.71,253.12 L449.24,253.13 L450.77,253.14 L452.30,253.15 L453.82,253.16 L455.35,253.18 L456.88,253.20 L458.41,253.22 L459.94,253.24 L461.46,253.27 L462.99,253.30 L464.52,253.33 L466.05,253.37 L467.58,253.40 L469.10,253.44 L470.63,253.49 L472.16,253.53 L473.69,253.58 L475.22,253.63 L476.74,253.68 L478.27,253.74 L479.80,253.80"/>
<path d="M297.97,332.80 L299.50,332.68 L301.03,332.45 L302.55,332.10 L304.08,331.55 L305.61,330.87 L307.14,330.11 L308.67,329.34 L310.19,328.47 L311.72,327.49 L313.25,326.44 L314.78,325.37 L316.31,324.29 L317.83,323.14 L319.36,321.85 L320.89,320.26 L322.42,318.31 L323.95,316.67 L325.47,315.15 L327.00,313.67 L328.53,312.24 L330.06,310.85 L331.59,309.47 L333.11,308.06 L334.64,306.59 L336.17,305.08 L337.70,303.59 L339.23,302.14 L340.75,300.75 L342.28,299.40 L343.81,298.09 L345.34,296.79 L346.87,295.50 L348.39,294.22 L349.92,292.95 L351.45,291.72 L352.98,290.57 L354.51,289.50 L356.03,288.47 L357.56,287.49 L359.09,286.56 L360.62,285.66 L362.15,284.80 L363.67,283.98 L365.20,283.20 L366.73,282.44 L368.26,281.72 L369.79,281.02 L371.31,280.35 L372.84,279.69 L374.37,279.06 L375.90,278.45 L377.43,277.88 L378.95,277.36 L380.48,276.86 L382.01,276.40 L383.54,275.98 L385.07,275.64 L386.59,275.34 L388.12,275.06 L389.65,274.80 L391.18,274.56 L392.70,274.34 L394.23,274.15 L395.76,273.97 L397.29,273.82 L398.82,273.68 L400.34,273.57 L401.87,273.47 L403.40,273.37 L404.93,273.29 L406.46,273.20 L407.98,273.12 L409.51,273.03 L411.04,272.92 L412.57,272.81 L414.10,272.68 L415.62,272.53 L417.15,272.33 L418.68,272.09 L420.21,271.82 L421.74,271.55 L423.26,271.27 L424.79,271.01 L426.32,270.77 L427.85,270.56 L429.38,270.40 L430.90,270.26 L432.43,270.12 L433.96,269.99 L435.49,269.87 L437.02,269.76 L438.54,269.65 L440.07,269.55 L441.60,269.46 L443.13,269.37 L444.66,269.29 L446.18,269.21 L447.71,269.14 L449.24,269.06 L450.77,268.99 L452.30,268.91 L453.82,268.84 L455.35,268.77 L456.88,268.70 L458.41,268.63 L459.94,268.56 L461.46,268.50 L462.99,268.44 L464.52,268.38 L466.05,268.33 L467.58,268.28 L469.10,268.23 L470.63,268.18 L472.16,268.14 L473.69,268.10 L475.22,268.07 L476.74,268.04 L478.27,268.01 L479.80,267.99"/>
<path d="M297.97,332.80 L299.50,332.68 L301.03,332.45 L302.55,332.10 L304.08,331.55 L305.61,330.87 L307.14,330.11 L308.67,329.34 L310.19,328.46 L311.72,327.47 L313.25,326.43 L314.78,325.38 L316.31,324.34 L317.83,323.25 L319.36,322.04 L320.89,320.56 L322.42,318.76 L323.95,317.18 L325.47,315.70 L327.00,314.31 L328.53,313.00 L330.06,311.76 L331.59,310.54 L333.11,309.30 L334.64,308.01 L336.17,306.70 L337.70,305.43 L339.23,304.25 L340.75,303.20 L342.28,302.22 L343.81,301.29 L345.34,300.38 L346.87,299.47 L348.39,298.56 L349.92,297.68 L351.45,296.83 L352.98,296.02 L354.51,295.24 L356.03,294.45 L357.56,293.68 L359.09,292.96 L360.62,292.33 L362.15,291.83 L363.67,291.44 L365.20,291.09 L366.73,290.78 L368.26,290.49 L369.79,290.23 L371.31,289.98 L372.84,289.76 L374.37,289.54 L375.90,289.32 L377.43,289.11 L378.95,288.89 L380.48,288.69 L382.01,288.49 L383.54,288.31 L385.07,288.14 L386.59,287.99 L388.12,287.84 L389.65,287.70 L391.18,287.56 L392.70,287.43 L394.23,287.30 L395.76,287.17 L397.29,287.05 L398.82,286.93 L400.34,286.81 L401.87,286.69 L403.40,286.56 L404.93,286.43 L406.46,286.30 L407.98,286.17 L409.51,286.02 L411.04,285.87 L412.57,285.71 L414.10,285.53 L415.62,285.34 L417.15,285.11 L418.68,284.84 L420.21,284.56 L421.74,284.26 L423.26,283.97 L424.79,283.69 L426.32,283.43 L427.85,283.22 L429.38,283.05 L430.90,282.91 L432.43,282.77 L433.96,282.64 L435.49,282.53 L437.02,282.42 L438.54,282.31 L440.07,282.22 L441.60,282.12 L443.13,282.03 L444.66,281.95 L446.18,281.86 L447.71,281.78 L449.24,281.70 L450.77,281.63 L452.30,281.56 L453.82,281.49 L455.35,281.43 L456.88,281.37 L458.41,281.30 L459.94,281.24 L461.46,281.18 L462.99,281.12 L464.52,281.06 L466.05,281.00 L467.58,280.94 L469.10,280.87 L470.63,280.81 L472.16,280.74 L473.69,280.67 L475.22,280.59 L476.74,280.51 L478.27,280.43 L479.80,280.34"/>
<path d="M297.97,332.80 L299.50,332.68 L301.03,332.45 L302.55,332.10 L304.08,331.55 L305.61,330.87 L307.14,330.11 L308.67,329.34 L310.19,328.45 L311.72,327.46 L313.25,326.42 L314.78,325.39 L316.31,324.39 L317.83,323.37 L319.36,322.23 L320.89,320.86 L322.42,319.20 L323.95,317.73 L325.47,316.34 L327.00,315.08 L328.53,313.93 L330.06,312.85 L331.59,311.84 L333.11,310.86 L334.64,309.89 L336.17,308.95 L337.70,308.07 L339.23,307.29 L340.75,306.60 L342.28,305.98 L343.81,305.41 L345.34,304.88 L346.87,304.38 L348.39,303.89 L349.92,303.44 L351.45,303.03 L352.98,302.66 L354.51,302.35 L356.03,302.06 L357.56,301.80 L359.09,301.56 L360.62,301.35 L362.15,301.17 L363.67,301.01 L365.20,300.86 L366.73,300.72 L368.26,300.59 L369.79,300.47 L371.31,300.35 L372.84,300.25 L374.37,300.16 L375.90,300.08 L377.43,300.00 L378.95,299.94 L380.48,299.89 L382.01,299.85 L383.54,299.81 L385.07,299.77 L386.59,299.73 L388.12,299.70 L389.65,299.66 L391.18,299.63 L392.70,299.59 L394.23,299.55 L395.76,299.51 L397.29,299.46 L398.82,299.40 L400.34,299.35 L401.87,299.29 L403.40,299.22 L404.93,299.15 L406.46,299.08 L407.98,299.00 L409.51,298.91 L411.04,298.81 L412.57,298.71 L414.10,298.59 L415.62,298.46 L417.15,298.28 L418.68,298.06 L420.21,297.80 L421.74,297.53 L423.26,297.25 L424.79,296.97 L426.32,296.72 L427.85,296.50 L429.38,296.32 L430.90,296.15 L432.43,295.98 L433.96,295.82 L435.49,295.67 L437.02,295.53 L438.54,295.40 L440.07,295.27 L441.60,295.16 L443.13,295.06 L444.66,294.97 L446.18,294.89 L447.71,294.81 L449.24,294.74 L450.77,294.67 L452.30,294.61 L453.82,294.54 L455.35,294.49 L456.88,294.43 L458.41,294.37 L459.94,294.32 L461.46,294.27 L462.99,294.22 L464.52,294.18 L466.05,294.13 L467.58,294.08 L469.10,294.04 L470.63,293.99 L472.16,293.95 L473.69,293.90 L475.22,293.86 L476.74,293.81 L478.27,293.77 L479.80,293.73"/>
<path d="M297.97,332.80 L299.50,332.68 L301.03,332.45 L302.55,332.10 L304.08,331.56 L305.61,330.90 L307.14,330.19 L308.67,329.49 L310.19,328.69 L311.72,327.83 L313.25,327.00 L314.78,326.30 L316.31,325.64 L317.83,325.04 L319.36,324.53 L320.89,324.15 L322.42,323.81 L323.95,323.52 L325.47,323.32 L327.00,323.22 L328.53,323.17 L330.06,323.13 L331.59,323.09 L333.11,323.05 L334.64,323.02 L336.17,322.99 L337.70,322.97 L339.23,322.95 L340.75,322.94 L342.28,322.93 L343.81,322.93 L345.34,322.92 L346.87,322.93 L348.39,322.93 L349.92,322.94 L351.45,322.95 L352.98,322.97 L354.51,322.98 L356.03,323.00 L357.56,323.02 L359.09,323.03 L360.62,323.05 L362.15,323.07 L363.67,323.08 L365.20,323.09 L366.73,323.10 L368.26,323.11 L369.79,323.11 L371.31,323.10 L372.84,323.07 L374.37,323.02 L375.90,322.95 L377.43,322.88 L378.95,322.80 L380.48,322.73 L382.01,322.65 L383.54,322.59 L385.07,322.55 L386.59,322.51 L388.12,322.47 L389.65,322.43 L391.18,322.40 L392.70,322.37 L394.23,322.34 L395.76,322.32 L397.29,322.29 L398.82,322.27 L400.34,322.24 L401.87,322.21 L403.40,322.19 L404.93,322.16 L406.46,322.13 L407.98,322.10 L409.51,322.07 L411.04,322.03 L412.57,322.00 L414.10,321.95 L415.62,321.91 L417.15,321.86 L418.68,321.80 L420.21,321.74 L421.74,321.67 L423.26,321.60 L424.79,321.52 L426.32,321.45 L427.85,321.36 L429.38,321.28 L430.90,321.20 L432.43,321.12 L433.96,321.03 L435.49,320.95 L437.02,320.87 L438.54,320.79 L440.07,320.72 L441.60,320.65 L443.13,320.58 L444.66,320.52 L446.18,320.46 L447.71,320.41 L449.24,320.35 L450.77,320.30 L452.30,320.25 L453.82,320.21 L455.35,320.16 L456.88,320.11 L458.41,320.07 L459.94,320.02 L461.46,319.98 L462.99,319.93 L464.52,319.89 L466.05,319.84 L467.58,319.79 L469.10,319.75 L470.63,319.70 L472.16,319.64 L473.69,319.59 L475.22,319.53 L476.74,319.47 L478.27,319.41 L479.80,319.35"/>
<path d="M319.98,332.80 L320.01,332.71 L320.04,332.63 L320.07,332.54 L320.10,332.46 L320.13,332.37 L320.16,332.28 L320.19,332.20 L320.22,332.11 L320.25,332.02 L320.28,331.94 L320.31,331.85 L320.33,331.76 L320.36,331.67 L320.39,331.58 L320.42,331.50 L320.45,331.41 L320.48,331.32 L320.51,331.23 L320.54,331.14 L320.57,331.05 L320.60,330.96 L320.63,330.87 L320.66,330.78 L320.69,330.69 L320.72,330.60 L320.75,330.51 L320.78,330.42 L320.81,330.33 L320.84,330.23 L320.87,330.14 L320.90,330.05 L320.92,329.96 L320.95,329.87 L320.98,329.77 L321.01,329.68 L321.04,329.59 L321.07,329.49 L321.10,329.40 L321.13,329.31 L321.16,329.21 L321.19,329.12 L321.22,329.02 L321.25,328.93 L321.28,328.83 L321.31,328.74 L321.34,328.64 L321.37,328.55 L321.40,328.45 L321.43,328.35 L321.46,328.26 L321.48,328.16 L321.51,328.07 L321.54,327.97 L321.57,327.87 L321.60,327.77 L321.63,327.68 L321.66,327.58 L321.69,327.48 L321.72,327.38 L321.75,327.28 L321.78,327.18 L321.81,327.09 L321.84,326.99 L321.87,326.89 L321.90,326.79 L321.93,326.69 L321.96,326.59 L321.99,326.49 L322.02,326.39 L322.05,326.29 L322.07,326.19 L322.10,326.08 L322.13,325.98 L322.16,325.88 L322.19,325.78 L322.22,325.68 L322.25,325.57 L322.28,325.47 L322.31,325.37 L322.34,325.27 L322.37,325.16 L322.40,325.06 L322.43,324.96 L322.46,324.85 L322.49,324.75 L322.52,324.64 L322.55,324.54 L322.58,324.43 L322.61,324.33 L322.63,324.22 L322.66,324.12 L322.69,324.01 L322.72,323.91 L322.75,323.80 L322.78,323.69 L322.81,323.59 L322.84,323.48 L322.87,323.37 L322.90,323.27 L322.93,323.16 L322.96,323.05 L322.99,322.94 L323.02,322.83 L323.05,322.73 L323.08,322.62 L323.11,322.51 L323.14,322.40 L323.17,322.29 L323.20,322.18 L323.22,322.07 L323.25,321.96 L323.28,321.85 L323.31,321.74 L323.34,321.63 L323.37,321.52 L323.40,321.41 L323.43,321.30 L323.46,321.18 L323.49,321.07"/>
<line x1="288.40" y1="332.20" x2="479.80" y2="332.20" stroke-width="1.6"/>
</g>
<line x1="288.40" y1="332.80" x2="387.93" y2="219.24" stroke="#1a1a1a" stroke-width="1.5" stroke-dasharray="4,2.68"/>
<text x="288.40" y="348.30" font-size="11.50" fill="#2a2a2a" font-weight="normal" font-style="normal" text-anchor="middle" >0</text>
<text x="320.30" y="348.30" font-size="11.50" fill="#2a2a2a" font-weight="normal" font-style="normal" text-anchor="middle" >5</text>
<text x="352.20" y="348.30" font-size="11.50" fill="#2a2a2a" font-weight="normal" font-style="normal" text-anchor="middle" >10</text>
<text x="384.10" y="348.30" font-size="11.50" fill="#2a2a2a" font-weight="normal" font-style="normal" text-anchor="middle" >15</text>
<text x="416.00" y="348.30" font-size="11.50" fill="#2a2a2a" font-weight="normal" font-style="normal" text-anchor="middle" >20</text>
<text x="447.90" y="348.30" font-size="11.50" fill="#2a2a2a" font-weight="normal" font-style="normal" text-anchor="middle" >25</text>
<text x="479.80" y="348.30" font-size="11.50" fill="#2a2a2a" font-weight="normal" font-style="normal" text-anchor="middle" >30</text>
<text x="285.40" y="337.40" font-size="11.50" fill="#2a2a2a" font-weight="normal" font-style="normal" text-anchor="end" >0</text>
<text x="285.40" y="306.54" font-size="11.50" fill="#2a2a2a" font-weight="normal" font-style="normal" text-anchor="end" textLength="13.5" lengthAdjust="spacingAndGlyphs" >50</text>
<text x="285.40" y="275.68" font-size="11.50" fill="#2a2a2a" font-weight="normal" font-style="normal" text-anchor="end" textLength="20.2" lengthAdjust="spacingAndGlyphs" >100</text>
<text x="285.40" y="244.82" font-size="11.50" fill="#2a2a2a" font-weight="normal" font-style="normal" text-anchor="end" textLength="20.2" lengthAdjust="spacingAndGlyphs" >150</text>
<text x="285.40" y="213.96" font-size="11.50" fill="#2a2a2a" font-weight="normal" font-style="normal" text-anchor="end" textLength="20.2" lengthAdjust="spacingAndGlyphs" >200</text>
<text x="285.40" y="183.10" font-size="11.50" fill="#2a2a2a" font-weight="normal" font-style="normal" text-anchor="end" textLength="20.2" lengthAdjust="spacingAndGlyphs" >250</text>
<text x="367.6" y="364.1" font-size="12" fill="#2a2a2a" textLength="34.6" lengthAdjust="spacingAndGlyphs"><tspan font-style="italic">V</tspan><tspan font-size="8" font-style="italic" dy="4">DS</tspan><tspan dy="-4"> (V)</tspan></text>
<text transform="translate(254.6,254.0) rotate(-90)" font-size="12" fill="#2a2a2a" text-anchor="middle" textLength="64.3" lengthAdjust="spacingAndGlyphs"><tspan font-style="italic">I</tspan><tspan font-size="8" font-style="italic" dy="3.5">DS</tspan><tspan dy="-3.5"> (mA/mm)</tspan></text>
<text x="314" y="198.7" font-size="11.5" fill="#2a2a2a"><tspan font-style="italic">V</tspan><tspan font-size="7.5" font-style="italic" dy="2.5">GS</tspan><tspan dy="-2.5"> = 10,8,6,4,2,0,-5,-10 V</tspan></text>
<text x="301.6" y="224.2" font-size="11.5" fill="#2a2a2a"><tspan font-style="italic">R</tspan><tspan font-size="7.5" font-style="italic" dy="2.5">on</tspan><tspan dy="-2.5"> = 85 &#937;-mm</tspan></text>
<g stroke="#000" fill="none" stroke-width="1.4">
<rect x="533.20" y="179.70" width="164.60" height="156.10"/>
<path d="M533.20,335.80v-2.50M533.20,179.70v2.50M574.35,335.80v-2.50M574.35,179.70v2.50M615.50,335.80v-2.50M615.50,179.70v2.50M656.65,335.80v-2.50M656.65,179.70v2.50M697.80,335.80v-2.50M697.80,179.70v2.50M533.20,335.80h2.50M697.80,335.80h-2.50M533.20,316.29h2.50M697.80,316.29h-2.50M533.20,296.77h2.50M697.80,296.77h-2.50M533.20,277.26h2.50M697.80,277.26h-2.50M533.20,257.75h2.50M697.80,257.75h-2.50M533.20,238.24h2.50M697.80,238.24h-2.50M533.20,218.72h2.50M697.80,218.72h-2.50M533.20,199.21h2.50M697.80,199.21h-2.50M533.20,179.70h2.50M697.80,179.70h-2.50"/>
</g>
<g stroke="#000" fill="none" stroke-width="1.5">
<path d="M533.20,335.80 L534.58,335.79 L535.97,335.76 L537.35,335.70 L538.73,335.64 L540.12,335.54 L541.50,335.29 L542.88,334.95 L544.27,334.57 L545.65,334.21 L547.03,333.86 L548.42,333.48 L549.80,333.08 L551.18,332.68 L552.56,332.27 L553.95,331.88 L555.33,331.51 L556.71,331.18 L558.10,330.88 L559.48,330.61 L560.86,330.36 L562.25,330.11 L563.63,329.88 L565.01,329.66 L566.40,329.45 L567.78,329.25 L569.16,329.05 L570.55,328.86 L571.93,328.68 L573.31,328.50 L574.70,328.33 L576.08,328.17 L577.46,328.02 L578.85,327.88 L580.23,327.75 L581.61,327.62 L582.99,327.48 L584.38,327.35 L585.76,327.22 L587.14,327.08 L588.53,326.95 L589.91,326.81 L591.29,326.68 L592.68,326.54 L594.06,326.41 L595.44,326.27 L596.83,326.14 L598.21,326.01 L599.59,325.88 L600.98,325.75 L602.36,325.62 L603.74,325.49 L605.13,325.37 L606.51,325.24 L607.89,325.12 L609.28,325.00 L610.66,324.89 L612.04,324.77 L613.43,324.66 L614.81,324.55 L616.19,324.45 L617.57,324.35 L618.96,324.25 L620.34,324.15 L621.72,324.06 L623.11,323.98 L624.49,323.89 L625.87,323.82 L627.26,323.74 L628.64,323.67 L630.02,323.61 L631.41,323.55 L632.79,323.49 L634.17,323.45 L635.56,323.40 L636.94,323.36 L638.32,323.33 L639.71,323.31 L641.09,323.28 L642.47,323.26 L643.86,323.23 L645.24,323.21 L646.62,323.19 L648.01,323.17 L649.39,323.14 L650.77,323.12 L652.15,323.10 L653.54,323.08 L654.92,323.06 L656.30,323.04 L657.69,323.02 L659.07,323.00 L660.45,322.99 L661.84,322.97 L663.22,322.95 L664.60,322.94 L665.99,322.92 L667.37,322.90 L668.75,322.89 L670.14,322.87 L671.52,322.86 L672.90,322.85 L674.29,322.84 L675.67,322.82 L677.05,322.81 L678.44,322.80 L679.82,322.79 L681.20,322.78 L682.58,322.77 L683.97,322.77 L685.35,322.76 L686.73,322.75 L688.12,322.75 L689.50,322.74 L690.88,322.74 L692.27,322.73 L693.65,322.73 L695.03,322.73 L696.42,322.73 L697.80,322.73"/>
<path d="M533.20,335.80 L534.58,335.79 L535.97,335.77 L537.35,335.74 L538.73,335.70 L540.12,335.66 L541.50,335.60 L542.88,335.50 L544.27,335.31 L545.65,335.07 L547.03,334.79 L548.42,334.48 L549.80,334.17 L551.18,333.89 L552.56,333.63 L553.95,333.44 L555.33,333.27 L556.71,333.12 L558.10,332.97 L559.48,332.84 L560.86,332.71 L562.25,332.58 L563.63,332.46 L565.01,332.34 L566.40,332.23 L567.78,332.12 L569.16,332.00 L570.55,331.89 L571.93,331.77 L573.31,331.65 L574.70,331.52 L576.08,331.39 L577.46,331.27 L578.85,331.17 L580.23,331.09 L581.61,331.02 L582.99,330.96 L584.38,330.89 L585.76,330.83 L587.14,330.77 L588.53,330.71 L589.91,330.65 L591.29,330.59 L592.68,330.53 L594.06,330.48 L595.44,330.42 L596.83,330.37 L598.21,330.32 L599.59,330.27 L600.98,330.22 L602.36,330.17 L603.74,330.13 L605.13,330.08 L606.51,330.04 L607.89,330.00 L609.28,329.96 L610.66,329.92 L612.04,329.88 L613.43,329.84 L614.81,329.80 L616.19,329.77 L617.57,329.74 L618.96,329.70 L620.34,329.67 L621.72,329.64 L623.11,329.61 L624.49,329.59 L625.87,329.56 L627.26,329.53 L628.64,329.51 L630.02,329.49 L631.41,329.47 L632.79,329.44 L634.17,329.42 L635.56,329.41 L636.94,329.39 L638.32,329.37 L639.71,329.36 L641.09,329.34 L642.47,329.33 L643.86,329.31 L645.24,329.30 L646.62,329.28 L648.01,329.27 L649.39,329.26 L650.77,329.24 L652.15,329.23 L653.54,329.21 L654.92,329.20 L656.30,329.19 L657.69,329.18 L659.07,329.16 L660.45,329.15 L661.84,329.14 L663.22,329.13 L664.60,329.12 L665.99,329.11 L667.37,329.10 L668.75,329.09 L670.14,329.08 L671.52,329.07 L672.90,329.06 L674.29,329.05 L675.67,329.04 L677.05,329.03 L678.44,329.02 L679.82,329.02 L681.20,329.01 L682.58,329.00 L683.97,329.00 L685.35,328.99 L686.73,328.99 L688.12,328.98 L689.50,328.98 L690.88,328.98 L692.27,328.98 L693.65,328.97 L695.03,328.97 L696.42,328.97 L697.80,328.97"/>
<path d="M533.20,335.80 L534.58,335.80 L535.97,335.79 L537.35,335.77 L538.73,335.75 L540.12,335.73 L541.50,335.70 L542.88,335.66 L544.27,335.61 L545.65,335.53 L547.03,335.44 L548.42,335.34 L549.80,335.22 L551.18,335.09 L552.56,334.96 L553.95,334.81 L555.33,334.66 L556.71,334.50 L558.10,334.34 L559.48,334.18 L560.86,334.03 L562.25,333.87 L563.63,333.72 L565.01,333.57 L566.40,333.43 L567.78,333.30 L569.16,333.19 L570.55,333.08 L571.93,332.99 L573.31,332.92 L574.70,332.86 L576.08,332.81 L577.46,332.76 L578.85,332.71 L580.23,332.66 L581.61,332.61 L582.99,332.57 L584.38,332.52 L585.76,332.48 L587.14,332.43 L588.53,332.39 L589.91,332.35 L591.29,332.31 L592.68,332.27 L594.06,332.23 L595.44,332.19 L596.83,332.15 L598.21,332.11 L599.59,332.08 L600.98,332.04 L602.36,332.01 L603.74,331.98 L605.13,331.95 L606.51,331.92 L607.89,331.89 L609.28,331.86 L610.66,331.83 L612.04,331.80 L613.43,331.78 L614.81,331.75 L616.19,331.73 L617.57,331.71 L618.96,331.69 L620.34,331.66 L621.72,331.65 L623.11,331.63 L624.49,331.61 L625.87,331.59 L627.26,331.58 L628.64,331.56 L630.02,331.55 L631.41,331.54 L632.79,331.53 L634.17,331.52 L635.56,331.51 L636.94,331.50 L638.32,331.49 L639.71,331.49 L641.09,331.48 L642.47,331.47 L643.86,331.47 L645.24,331.46 L646.62,331.45 L648.01,331.45 L649.39,331.44 L650.77,331.43 L652.15,331.43 L653.54,331.42 L654.92,331.41 L656.30,331.41 L657.69,331.40 L659.07,331.40 L660.45,331.39 L661.84,331.39 L663.22,331.38 L664.60,331.38 L665.99,331.37 L667.37,331.37 L668.75,331.36 L670.14,331.36 L671.52,331.35 L672.90,331.35 L674.29,331.34 L675.67,331.34 L677.05,331.34 L678.44,331.33 L679.82,331.33 L681.20,331.33 L682.58,331.33 L683.97,331.32 L685.35,331.32 L686.73,331.32 L688.12,331.32 L689.50,331.32 L690.88,331.32 L692.27,331.31 L693.65,331.31 L695.03,331.31 L696.42,331.31 L697.80,331.31"/>
<path d="M533.20,334.98 L534.24,334.78 L535.27,334.55 L536.31,334.26 L537.34,333.91 L538.38,333.48 L539.41,332.97 L540.45,332.35 L541.48,331.62 L542.52,330.75 L543.55,329.72 L544.59,328.53 L545.62,327.14 L546.66,325.55 L547.69,323.75 L548.73,321.74 L549.76,319.52 L550.80,317.09 L551.83,314.48 L552.87,311.72 L553.90,308.84 L554.94,305.87 L555.97,302.85 L557.01,299.82 L558.05,296.82 L559.08,293.86 L560.12,290.97 L561.15,288.17 L562.19,285.47 L563.22,282.88 L564.26,280.40 L565.29,278.04 L566.33,275.78 L567.36,273.63 L568.40,271.59 L569.43,269.64 L570.47,267.79 L571.50,266.02 L572.54,264.34 L573.57,262.73 L574.61,261.19 L575.64,259.73 L576.68,258.32 L577.71,256.98 L578.75,255.69 L579.78,254.45 L580.82,253.27 L581.86,252.12 L582.89,251.03 L583.93,249.97 L584.96,248.95 L586.00,247.97 L587.03,247.02 L588.07,246.10 L589.10,245.21 L590.14,244.36 L591.17,243.53 L592.21,242.73 L593.24,241.95 L594.28,241.19 L595.31,240.46 L596.35,239.75 L597.38,239.06 L598.42,238.39 L599.45,237.74 L600.49,237.10 L601.52,236.49 L602.56,235.89 L603.59,235.30 L604.63,234.73 L605.67,234.18 L606.70,233.63 L607.74,233.11 L608.77,232.59 L609.81,232.09 L610.84,231.60 L611.88,231.12 L612.91,230.65 L613.95,230.19 L614.98,229.75 L616.02,229.31 L617.05,228.88 L618.09,228.46 L619.12,228.05 L620.16,227.65 L621.19,227.26 L622.23,226.88 L623.26,226.50 L624.30,226.13 L625.33,225.77 L626.37,225.42 L627.41,225.07 L628.44,224.73 L629.48,224.39 L630.51,224.07 L631.55,223.75 L632.58,223.43 L633.62,223.12 L634.65,222.82 L635.69,222.52 L636.72,222.23 L637.76,221.94 L638.79,221.65 L639.83,221.38 L640.86,221.10 L641.90,220.84 L642.93,220.57 L643.97,220.31 L645.00,220.06 L646.04,219.81 L647.07,219.56 L648.11,219.32 L649.14,219.08 L650.18,218.84 L651.22,218.61 L652.25,218.39 L653.29,218.16 L654.32,217.94 L655.36,217.72 L656.39,217.51 L657.43,217.30 L658.46,217.09 L659.50,216.89 L660.53,216.69 L661.57,216.49 L662.60,216.29 L663.64,216.10 L664.67,215.91 L665.71,215.73 L666.74,215.54 L667.78,215.36 L668.81,215.18 L669.85,215.00 L670.88,214.83 L671.92,214.66 L672.95,214.49 L673.99,214.32 L675.03,214.16 L676.06,213.99 L677.10,213.83 L678.13,213.67 L679.17,213.52 L680.20,213.36 L681.24,213.21 L682.27,213.06 L683.31,212.91 L684.34,212.77 L685.38,212.62 L686.41,212.48 L687.45,212.34 L688.48,212.20 L689.52,212.06 L690.55,211.92 L691.59,211.79 L692.62,211.66 L693.66,211.53 L694.69,211.40 L695.73,211.27 L696.76,211.14 L697.80,211.02"/>
<path d="M533.20,335.49 L534.24,335.38 L535.27,335.23 L536.31,335.03 L537.34,334.76 L538.38,334.41 L539.41,333.95 L540.45,333.35 L541.48,332.59 L542.52,331.63 L543.55,330.44 L544.59,329.01 L545.62,327.32 L546.66,325.39 L547.69,323.24 L548.73,320.91 L549.76,318.46 L550.80,315.95 L551.83,313.43 L552.87,310.94 L553.90,308.52 L554.94,306.19 L555.97,303.97 L557.01,301.86 L558.05,299.86 L559.08,297.96 L560.12,296.17 L561.15,294.47 L562.19,292.87 L563.22,291.34 L564.26,289.90 L565.29,288.53 L566.33,287.22 L567.36,285.97 L568.40,284.78 L569.43,283.65 L570.47,282.56 L571.50,281.51 L572.54,280.51 L573.57,279.55 L574.61,278.63 L575.64,277.74 L576.68,276.88 L577.71,276.05 L578.75,275.26 L579.78,274.49 L580.82,273.74 L581.86,273.02 L582.89,272.32 L583.93,271.65 L584.96,270.99 L586.00,270.36 L587.03,269.74 L588.07,269.14 L589.10,268.56 L590.14,267.99 L591.17,267.44 L592.21,266.91 L593.24,266.39 L594.28,265.88 L595.31,265.39 L596.35,264.90 L597.38,264.44 L598.42,263.98 L599.45,263.53 L600.49,263.09 L601.52,262.67 L602.56,262.25 L603.59,261.85 L604.63,261.45 L605.67,261.06 L606.70,260.68 L607.74,260.31 L608.77,259.94 L609.81,259.59 L610.84,259.24 L611.88,258.90 L612.91,258.56 L613.95,258.24 L614.98,257.92 L616.02,257.60 L617.05,257.29 L618.09,256.99 L619.12,256.69 L620.16,256.40 L621.19,256.12 L622.23,255.84 L623.26,255.56 L624.30,255.29 L625.33,255.02 L626.37,254.76 L627.41,254.51 L628.44,254.26 L629.48,254.01 L630.51,253.77 L631.55,253.53 L632.58,253.29 L633.62,253.06 L634.65,252.83 L635.69,252.61 L636.72,252.39 L637.76,252.18 L638.79,251.96 L639.83,251.75 L640.86,251.55 L641.90,251.34 L642.93,251.15 L643.97,250.95 L645.00,250.75 L646.04,250.56 L647.07,250.38 L648.11,250.19 L649.14,250.01 L650.18,249.83 L651.22,249.65 L652.25,249.48 L653.29,249.31 L654.32,249.14 L655.36,248.97 L656.39,248.80 L657.43,248.64 L658.46,248.48 L659.50,248.32 L660.53,248.17 L661.57,248.01 L662.60,247.86 L663.64,247.71 L664.67,247.56 L665.71,247.42 L666.74,247.27 L667.78,247.13 L668.81,246.99 L669.85,246.85 L670.88,246.72 L671.92,246.58 L672.95,246.45 L673.99,246.32 L675.03,246.19 L676.06,246.06 L677.10,245.93 L678.13,245.81 L679.17,245.68 L680.20,245.56 L681.24,245.44 L682.27,245.32 L683.31,245.20 L684.34,245.09 L685.38,244.97 L686.41,244.86 L687.45,244.74 L688.48,244.63 L689.52,244.52 L690.55,244.41 L691.59,244.31 L692.62,244.20 L693.66,244.09 L694.69,243.99 L695.73,243.89 L696.76,243.79 L697.80,243.69"/>
<path d="M533.20,335.79 L534.24,335.79 L535.27,335.78 L536.31,335.75 L537.34,335.71 L538.38,335.62 L539.41,335.46 L540.45,335.17 L541.48,334.66 L542.52,333.82 L543.55,332.57 L544.59,330.88 L545.62,328.88 L546.66,326.72 L547.69,324.56 L548.73,322.49 L549.76,320.54 L550.80,318.73 L551.83,317.05 L552.87,315.49 L553.90,314.03 L554.94,312.66 L555.97,311.37 L557.01,310.15 L558.05,309.00 L559.08,307.92 L560.12,306.88 L561.15,305.89 L562.19,304.95 L563.22,304.06 L564.26,303.19 L565.29,302.37 L566.33,301.58 L567.36,300.81 L568.40,300.08 L569.43,299.38 L570.47,298.69 L571.50,298.04 L572.54,297.40 L573.57,296.79 L574.61,296.19 L575.64,295.62 L576.68,295.06 L577.71,294.52 L578.75,293.99 L579.78,293.48 L580.82,292.98 L581.86,292.50 L582.89,292.03 L583.93,291.58 L584.96,291.13 L586.00,290.70 L587.03,290.28 L588.07,289.87 L589.10,289.46 L590.14,289.07 L591.17,288.69 L592.21,288.32 L593.24,287.95 L594.28,287.60 L595.31,287.25 L596.35,286.91 L597.38,286.57 L598.42,286.25 L599.45,285.93 L600.49,285.62 L601.52,285.31 L602.56,285.01 L603.59,284.72 L604.63,284.43 L605.67,284.15 L606.70,283.87 L607.74,283.60 L608.77,283.34 L609.81,283.07 L610.84,282.82 L611.88,282.57 L612.91,282.32 L613.95,282.08 L614.98,281.84 L616.02,281.61 L617.05,281.38 L618.09,281.15 L619.12,280.93 L620.16,280.71 L621.19,280.49 L622.23,280.28 L623.26,280.08 L624.30,279.87 L625.33,279.67 L626.37,279.47 L627.41,279.28 L628.44,279.09 L629.48,278.90 L630.51,278.71 L631.55,278.53 L632.58,278.35 L633.62,278.17 L634.65,278.00 L635.69,277.83 L636.72,277.66 L637.76,277.49 L638.79,277.33 L639.83,277.16 L640.86,277.00 L641.90,276.85 L642.93,276.69 L643.97,276.54 L645.00,276.39 L646.04,276.24 L647.07,276.09 L648.11,275.94 L649.14,275.80 L650.18,275.66 L651.22,275.52 L652.25,275.38 L653.29,275.25 L654.32,275.11 L655.36,274.98 L656.39,274.85 L657.43,274.72 L658.46,274.59 L659.50,274.47 L660.53,274.34 L661.57,274.22 L662.60,274.10 L663.64,273.98 L664.67,273.86 L665.71,273.74 L666.74,273.63 L667.78,273.51 L668.81,273.40 L669.85,273.29 L670.88,273.18 L671.92,273.07 L672.95,272.96 L673.99,272.86 L675.03,272.75 L676.06,272.65 L677.10,272.55 L678.13,272.44 L679.17,272.34 L680.20,272.24 L681.24,272.15 L682.27,272.05 L683.31,271.95 L684.34,271.86 L685.38,271.76 L686.41,271.67 L687.45,271.58 L688.48,271.49 L689.52,271.40 L690.55,271.31 L691.59,271.22 L692.62,271.13 L693.66,271.04 L694.69,270.96 L695.73,270.87 L696.76,270.79 L697.80,270.71"/>
<path d="M533.20,335.80 L534.24,335.79 L535.27,335.79 L536.31,335.78 L537.34,335.75 L538.38,335.71 L539.41,335.62 L540.45,335.46 L541.48,335.17 L542.52,334.68 L543.55,333.97 L544.59,333.03 L545.62,331.95 L546.66,330.81 L547.69,329.66 L548.73,328.54 L549.76,327.46 L550.80,326.43 L551.83,325.46 L552.87,324.53 L553.90,323.64 L554.94,322.79 L555.97,321.98 L557.01,321.21 L558.05,320.47 L559.08,319.75 L560.12,319.07 L561.15,318.41 L562.19,317.78 L563.22,317.16 L564.26,316.57 L565.29,316.00 L566.33,315.45 L567.36,314.92 L568.40,314.41 L569.43,313.91 L570.47,313.43 L571.50,312.96 L572.54,312.50 L573.57,312.06 L574.61,311.64 L575.64,311.22 L576.68,310.82 L577.71,310.42 L578.75,310.04 L579.78,309.67 L580.82,309.31 L581.86,308.96 L582.89,308.61 L583.93,308.28 L584.96,307.95 L586.00,307.63 L587.03,307.32 L588.07,307.02 L589.10,306.73 L590.14,306.44 L591.17,306.16 L592.21,305.88 L593.24,305.61 L594.28,305.35 L595.31,305.09 L596.35,304.84 L597.38,304.60 L598.42,304.35 L599.45,304.12 L600.49,303.89 L601.52,303.66 L602.56,303.44 L603.59,303.23 L604.63,303.01 L605.67,302.81 L606.70,302.60 L607.74,302.40 L608.77,302.21 L609.81,302.02 L610.84,301.83 L611.88,301.65 L612.91,301.47 L613.95,301.29 L614.98,301.11 L616.02,300.94 L617.05,300.78 L618.09,300.61 L619.12,300.45 L620.16,300.29 L621.19,300.13 L622.23,299.98 L623.26,299.83 L624.30,299.68 L625.33,299.54 L626.37,299.39 L627.41,299.25 L628.44,299.12 L629.48,298.98 L630.51,298.85 L631.55,298.72 L632.58,298.59 L633.62,298.46 L634.65,298.34 L635.69,298.21 L636.72,298.09 L637.76,297.97 L638.79,297.86 L639.83,297.74 L640.86,297.63 L641.90,297.52 L642.93,297.41 L643.97,297.30 L645.00,297.19 L646.04,297.09 L647.07,296.98 L648.11,296.88 L649.14,296.78 L650.18,296.68 L651.22,296.58 L652.25,296.49 L653.29,296.39 L654.32,296.30 L655.36,296.21 L656.39,296.12 L657.43,296.03 L658.46,295.94 L659.50,295.85 L660.53,295.77 L661.57,295.68 L662.60,295.60 L663.64,295.52 L664.67,295.44 L665.71,295.36 L666.74,295.28 L667.78,295.20 L668.81,295.12 L669.85,295.05 L670.88,294.97 L671.92,294.90 L672.95,294.83 L673.99,294.75 L675.03,294.68 L676.06,294.61 L677.10,294.54 L678.13,294.48 L679.17,294.41 L680.20,294.34 L681.24,294.28 L682.27,294.21 L683.31,294.15 L684.34,294.08 L685.38,294.02 L686.41,293.96 L687.45,293.90 L688.48,293.84 L689.52,293.78 L690.55,293.72 L691.59,293.66 L692.62,293.61 L693.66,293.55 L694.69,293.49 L695.73,293.44 L696.76,293.38 L697.80,293.33"/>
<path d="M533.20,335.80 L534.24,335.80 L535.27,335.80 L536.31,335.79 L537.34,335.78 L538.38,335.75 L539.41,335.68 L540.45,335.53 L541.48,335.23 L542.52,334.73 L543.55,334.08 L544.59,333.37 L545.62,332.65 L546.66,331.97 L547.69,331.33 L548.73,330.73 L549.76,330.16 L550.80,329.63 L551.83,329.13 L552.87,328.65 L553.90,328.20 L554.94,327.76 L555.97,327.35 L557.01,326.95 L558.05,326.57 L559.08,326.20 L560.12,325.85 L561.15,325.50 L562.19,325.17 L563.22,324.85 L564.26,324.55 L565.29,324.25 L566.33,323.96 L567.36,323.68 L568.40,323.40 L569.43,323.14 L570.47,322.88 L571.50,322.63 L572.54,322.38 L573.57,322.14 L574.61,321.91 L575.64,321.69 L576.68,321.46 L577.71,321.25 L578.75,321.04 L579.78,320.83 L580.82,320.63 L581.86,320.43 L582.89,320.24 L583.93,320.05 L584.96,319.87 L586.00,319.69 L587.03,319.51 L588.07,319.33 L589.10,319.16 L590.14,319.00 L591.17,318.83 L592.21,318.67 L593.24,318.52 L594.28,318.36 L595.31,318.21 L596.35,318.06 L597.38,317.91 L598.42,317.77 L599.45,317.63 L600.49,317.49 L601.52,317.35 L602.56,317.22 L603.59,317.08 L604.63,316.95 L605.67,316.83 L606.70,316.70 L607.74,316.58 L608.77,316.45 L609.81,316.33 L610.84,316.22 L611.88,316.10 L612.91,315.98 L613.95,315.87 L614.98,315.76 L616.02,315.65 L617.05,315.54 L618.09,315.43 L619.12,315.33 L620.16,315.23 L621.19,315.12 L622.23,315.02 L623.26,314.92 L624.30,314.82 L625.33,314.73 L626.37,314.63 L627.41,314.54 L628.44,314.44 L629.48,314.35 L630.51,314.26 L631.55,314.17 L632.58,314.08 L633.62,314.00 L634.65,313.91 L635.69,313.83 L636.72,313.74 L637.76,313.66 L638.79,313.58 L639.83,313.49 L640.86,313.41 L641.90,313.34 L642.93,313.26 L643.97,313.18 L645.00,313.10 L646.04,313.03 L647.07,312.95 L648.11,312.88 L649.14,312.81 L650.18,312.73 L651.22,312.66 L652.25,312.59 L653.29,312.52 L654.32,312.45 L655.36,312.38 L656.39,312.32 L657.43,312.25 L658.46,312.18 L659.50,312.12 L660.53,312.05 L661.57,311.99 L662.60,311.92 L663.64,311.86 L664.67,311.80 L665.71,311.74 L666.74,311.68 L667.78,311.62 L668.81,311.56 L669.85,311.50 L670.88,311.44 L671.92,311.38 L672.95,311.32 L673.99,311.27 L675.03,311.21 L676.06,311.15 L677.10,311.10 L678.13,311.04 L679.17,310.99 L680.20,310.94 L681.24,310.88 L682.27,310.83 L683.31,310.78 L684.34,310.73 L685.38,310.67 L686.41,310.62 L687.45,310.57 L688.48,310.52 L689.52,310.47 L690.55,310.42 L691.59,310.38 L692.62,310.33 L693.66,310.28 L694.69,310.23 L695.73,310.19 L696.76,310.14 L697.80,310.09"/>
</g>
<path d="M538.5,336.5 C541,336 543,334.2 546,333.6 L600,332.3 L698,331.7 L698,336.5 Z" fill="#000"/>
<text x="533.20" y="347.60" font-size="9.50" fill="#111" font-weight="bold" font-style="normal" text-anchor="middle" textLength="5.7" lengthAdjust="spacingAndGlyphs" stroke="#111" stroke-width="0.25">0</text>
<text x="574.35" y="347.60" font-size="9.50" fill="#111" font-weight="bold" font-style="normal" text-anchor="middle" textLength="11.8" lengthAdjust="spacingAndGlyphs" stroke="#111" stroke-width="0.25">10</text>
<text x="615.50" y="347.60" font-size="9.50" fill="#111" font-weight="bold" font-style="normal" text-anchor="middle" textLength="11.8" lengthAdjust="spacingAndGlyphs" stroke="#111" stroke-width="0.25">20</text>
<text x="656.65" y="347.60" font-size="9.50" fill="#111" font-weight="bold" font-style="normal" text-anchor="middle" textLength="11.8" lengthAdjust="spacingAndGlyphs" stroke="#111" stroke-width="0.25">30</text>
<text x="697.80" y="347.60" font-size="9.50" fill="#111" font-weight="bold" font-style="normal" text-anchor="middle" textLength="11.8" lengthAdjust="spacingAndGlyphs" stroke="#111" stroke-width="0.25">40</text>
<text x="528.60" y="339.10" font-size="9.50" fill="#111" font-weight="bold" font-style="normal" text-anchor="end" textLength="5.7" lengthAdjust="spacingAndGlyphs" stroke="#111" stroke-width="0.25">0</text>
<text x="528.60" y="319.59" font-size="9.50" fill="#111" font-weight="bold" font-style="normal" text-anchor="end" textLength="11.8" lengthAdjust="spacingAndGlyphs" stroke="#111" stroke-width="0.25">10</text>
<text x="528.60" y="300.07" font-size="9.50" fill="#111" font-weight="bold" font-style="normal" text-anchor="end" textLength="11.8" lengthAdjust="spacingAndGlyphs" stroke="#111" stroke-width="0.25">20</text>
<text x="528.60" y="280.56" font-size="9.50" fill="#111" font-weight="bold" font-style="normal" text-anchor="end" textLength="11.8" lengthAdjust="spacingAndGlyphs" stroke="#111" stroke-width="0.25">30</text>
<text x="528.60" y="261.05" font-size="9.50" fill="#111" font-weight="bold" font-style="normal" text-anchor="end" textLength="11.8" lengthAdjust="spacingAndGlyphs" stroke="#111" stroke-width="0.25">40</text>
<text x="528.60" y="241.54" font-size="9.50" fill="#111" font-weight="bold" font-style="normal" text-anchor="end" textLength="11.8" lengthAdjust="spacingAndGlyphs" stroke="#111" stroke-width="0.25">50</text>
<text x="528.60" y="222.03" font-size="9.50" fill="#111" font-weight="bold" font-style="normal" text-anchor="end" textLength="11.8" lengthAdjust="spacingAndGlyphs" stroke="#111" stroke-width="0.25">60</text>
<text x="528.60" y="202.51" font-size="9.50" fill="#111" font-weight="bold" font-style="normal" text-anchor="end" textLength="11.8" lengthAdjust="spacingAndGlyphs" stroke="#111" stroke-width="0.25">70</text>
<text x="528.60" y="183.00" font-size="9.50" fill="#111" font-weight="bold" font-style="normal" text-anchor="end" textLength="11.8" lengthAdjust="spacingAndGlyphs" stroke="#111" stroke-width="0.25">80</text>
<text x="544.60" y="360.30" font-size="10.00" fill="#111" font-weight="bold" font-style="normal" text-anchor="start" textLength="141.9" lengthAdjust="spacingAndGlyphs" stroke="#111" stroke-width="0.25">Drain-source voltage (V)</text>
<text transform="translate(506.9,257.2) rotate(-90)" font-size="10" fill="#111" font-weight="bold" stroke="#111" stroke-width="0.25" text-anchor="middle" textLength="139.5" lengthAdjust="spacingAndGlyphs">Drain current (mA/mm)</text>
<text x="544.6" y="195.5" font-size="9.6" fill="#111" font-weight="bold" stroke="#111" stroke-width="0.3" textLength="57.3" lengthAdjust="spacingAndGlyphs"><tspan font-style="italic">L</tspan><tspan font-style="italic" font-size="9.6" dy="2">g</tspan><tspan dy="-2"> = 4 &#956;m</tspan></text>
<text x="544.8" y="209.5" font-size="9.6" fill="#111" font-weight="bold" stroke="#111" stroke-width="0.3" textLength="70.4" lengthAdjust="spacingAndGlyphs"><tspan font-style="italic">L</tspan><tspan font-style="italic" font-size="9.6" dy="2">sd</tspan><tspan dy="-2"> = 12 &#956;m</tspan></text>
<text x="544.60" y="223.40" font-size="9.60" fill="#111" font-weight="bold" font-style="normal" text-anchor="start" textLength="12.6" lengthAdjust="spacingAndGlyphs" stroke="#111" stroke-width="0.3">RT</text>
<text x="644.3" y="204.2" font-size="9.3" fill="#111" font-weight="bold" stroke="#111" stroke-width="0.3" textLength="50.3" lengthAdjust="spacingAndGlyphs"><tspan font-style="italic">V</tspan><tspan font-style="italic" font-size="6.5" dy="1.5">g</tspan><tspan dy="-1.5"> = +4 V</tspan></text>
<text x="669.40" y="242.30" font-size="9.30" fill="#111" font-weight="bold" font-style="normal" text-anchor="start" textLength="25.2" lengthAdjust="spacingAndGlyphs" stroke="#111" stroke-width="0.3">+2 V</text>
<text x="676.60" y="269.30" font-size="9.30" fill="#111" font-weight="bold" font-style="normal" text-anchor="start" textLength="18.0" lengthAdjust="spacingAndGlyphs" stroke="#111" stroke-width="0.3">0 V</text>
<text x="672.40" y="292.00" font-size="9.30" fill="#111" font-weight="bold" font-style="normal" text-anchor="start" textLength="22.2" lengthAdjust="spacingAndGlyphs" stroke="#111" stroke-width="0.3">-2 V</text>
<text x="672.50" y="308.40" font-size="9.30" fill="#111" font-weight="bold" font-style="normal" text-anchor="start" textLength="21.5" lengthAdjust="spacingAndGlyphs" stroke="#111" stroke-width="0.3">-4 V</text>
</svg>
</body></html>
